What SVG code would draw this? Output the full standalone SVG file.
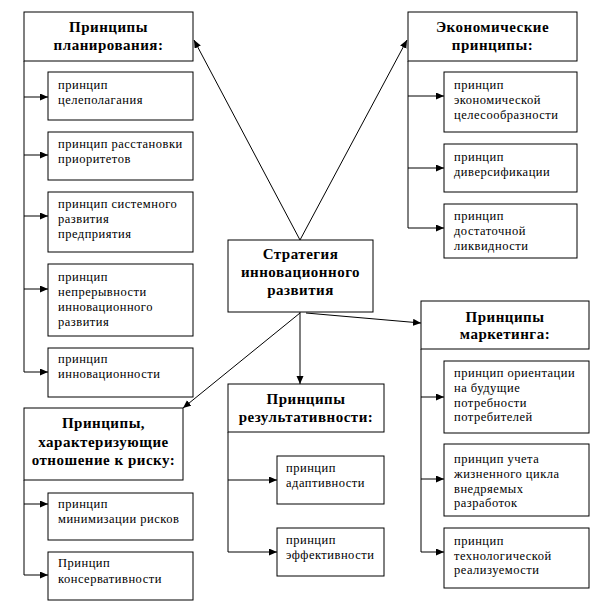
<svg xmlns="http://www.w3.org/2000/svg" width="590" height="613" viewBox="0 0 590 613">
<defs>
<marker id="ah" markerUnits="userSpaceOnUse" markerWidth="9" markerHeight="8" refX="8" refY="3.5" orient="auto">
<path d="M0,0 L8,3.5 L0,7 z" fill="#000"/>
</marker>
<style>
rect{fill:#fff;stroke:#000;stroke-width:1}
.c line{stroke:#000;stroke-width:1;fill:none}
.a{marker-end:url(#ah)}
text{font-family:'Liberation Serif','DejaVu Serif',serif}
.h{font-weight:bold;font-size:15px;letter-spacing:0.5px;text-anchor:middle}
.t{font-size:12.5px;letter-spacing:0.5px}
</style>
</defs>
<g class="c" id="connectors">
<line x1="24" y1="61" x2="24" y2="372"/>
<line class="a" x1="24" y1="97" x2="48" y2="97"/>
<line class="a" x1="24" y1="155" x2="48" y2="155"/>
<line class="a" x1="24" y1="216" x2="48" y2="216"/>
<line class="a" x1="24" y1="289" x2="48" y2="289"/>
<line class="a" x1="24" y1="372" x2="48" y2="372"/>
<line x1="408" y1="61" x2="408" y2="228"/>
<line class="a" x1="408" y1="96" x2="444" y2="96"/>
<line class="a" x1="408" y1="168" x2="444" y2="168"/>
<line class="a" x1="408" y1="228" x2="444" y2="228"/>
<line x1="24" y1="480" x2="24" y2="575"/>
<line class="a" x1="24" y1="504" x2="48" y2="504"/>
<line class="a" x1="24" y1="575" x2="48" y2="575"/>
<line x1="228" y1="432" x2="228" y2="552"/>
<line class="a" x1="228" y1="480" x2="277" y2="480"/>
<line class="a" x1="228" y1="552" x2="277" y2="552"/>
<line x1="421" y1="349" x2="421" y2="552"/>
<line class="a" x1="421" y1="397" x2="444" y2="397"/>
<line class="a" x1="421" y1="479" x2="444" y2="479"/>
<line class="a" x1="421" y1="552" x2="444" y2="552"/>
<line class="a" x1="300" y1="240" x2="194" y2="40"/>
<line class="a" x1="300" y1="240" x2="407" y2="40"/>
<line class="a" x1="300" y1="312" x2="300" y2="384"/>
<line class="a" x1="300" y1="313" x2="183" y2="408"/>
<line class="a" x1="306" y1="313" x2="421" y2="323"/>
</g>
<g id="center">
<rect x="228" y="240" width="145" height="72"/>
<text class="h" x="300.5" y="259">Стратегия</text>
<text class="h" x="300.5" y="277">инновационного</text>
<text class="h" x="300.5" y="295">развития</text>
</g>
<g id="planning">
<rect x="24" y="12" width="169" height="49"/>
<text class="h" x="108.5" y="32">Принципы</text>
<text class="h" x="108.5" y="50">планирования:</text>
</g>
<g id="plan1"><rect x="48" y="72" width="145" height="48"/>
<text class="t" x="58" y="89">принцип</text><text class="t" x="58" y="104">целеполагания</text></g>
<g id="plan2"><rect x="48" y="132" width="145" height="48"/>
<text class="t" x="58" y="148">принцип расстановки</text><text class="t" x="58" y="163">приоритетов</text></g>
<g id="plan3"><rect x="48" y="192" width="145" height="60"/>
<text class="t" x="58" y="208">принцип системного</text><text class="t" x="58" y="223">развития</text><text class="t" x="58" y="238">предприятия</text></g>
<g id="plan4"><rect x="48" y="264" width="145" height="72"/>
<text class="t" x="58" y="281">принцип</text><text class="t" x="58" y="296">непрерывности</text><text class="t" x="58" y="311">инновационного</text><text class="t" x="58" y="326">развития</text></g>
<g id="plan5"><rect x="48" y="348" width="145" height="49"/>
<text class="t" x="58" y="363">принцип</text><text class="t" x="58" y="378">инновационности</text></g>
<g id="economic">
<rect x="408" y="12" width="169" height="49"/>
<text class="h" x="492.5" y="32">Экономические</text>
<text class="h" x="492.5" y="50">принципы:</text>
</g>
<g id="eco1"><rect x="444" y="72" width="133" height="60"/>
<text class="t" x="454" y="89">принцип</text><text class="t" x="454" y="104">экономической</text><text class="t" x="454" y="119">целесообразности</text></g>
<g id="eco2"><rect x="444" y="144" width="133" height="48"/>
<text class="t" x="454" y="161">принцип</text><text class="t" x="454" y="176">диверсификации</text></g>
<g id="eco3"><rect x="444" y="204" width="133" height="54"/>
<text class="t" x="454" y="220">принцип</text><text class="t" x="454" y="235">достаточной</text><text class="t" x="454" y="250">ликвидности</text></g>
<g id="marketing">
<rect x="421" y="301" width="168" height="48"/>
<text class="h" x="505" y="322">Принципы</text>
<text class="h" x="505" y="339">маркетинга:</text>
</g>
<g id="mk1"><rect x="444" y="361" width="145" height="72"/>
<text class="t" x="454" y="377">принцип ориентации</text><text class="t" x="454" y="392">на будущие</text><text class="t" x="454" y="407">потребности</text><text class="t" x="454" y="421">потребителей</text></g>
<g id="mk2"><rect x="444" y="444" width="145" height="72"/>
<text class="t" x="454" y="463">принцип учета</text><text class="t" x="454" y="478">жизненного цикла</text><text class="t" x="454" y="493">внедряемых</text><text class="t" x="454" y="507">разработок</text></g>
<g id="mk3"><rect x="444" y="528" width="145" height="60"/>
<text class="t" x="454" y="545">принцип</text><text class="t" x="454" y="560">технологической</text><text class="t" x="454" y="574">реализуемости</text></g>
<g id="results">
<rect x="228" y="384" width="156" height="48"/>
<text class="h" x="306" y="404">Принципы</text>
<text class="h" x="306" y="422">результативности:</text>
</g>
<g id="res1"><rect x="277" y="456" width="107" height="48"/>
<text class="t" x="286" y="472">принцип</text><text class="t" x="286" y="487">адаптивности</text></g>
<g id="res2"><rect x="277" y="528" width="107" height="48"/>
<text class="t" x="286" y="544">принцип</text><text class="t" x="286" y="559">эффективности</text></g>
<g id="risk">
<rect x="24" y="408" width="159" height="72"/>
<text class="h" x="103.5" y="428">Принципы,</text>
<text class="h" x="103.5" y="447">характеризующие</text>
<text class="h" x="103.5" y="465">отношение к риску:</text>
</g>
<g id="risk1"><rect x="48" y="493" width="145" height="47"/>
<text class="t" x="58" y="508">принцип</text><text class="t" x="58" y="523">минимизации рисков</text></g>
<g id="risk2"><rect x="48" y="552" width="145" height="48"/>
<text class="t" x="58" y="567">Принцип</text><text class="t" x="58" y="583">консервативности</text></g>
</svg>
